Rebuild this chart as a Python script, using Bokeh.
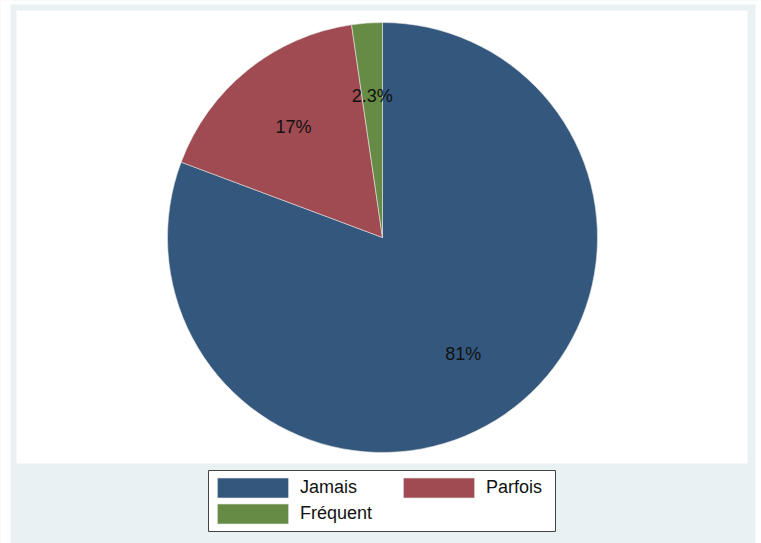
import math
from bokeh.plotting import figure
from bokeh.models import Range1d, Legend, LegendItem
from bokeh.core.properties import value
from bokeh.embed import file_html
from bokeh.resources import INLINE

categories = ["Jamais", "Parfois", "Fréquent"]
shares = [80.7, 17.0, 2.3]
slice_labels = ["81%", "17%", "2.3%"]
colors = ["#34587D", "#A04A52", "#668B44"]

W, H = 761, 543
BG = "#EAF1F2"
FONT = "Liberation Sans"

p = figure(width=W, height=H, output_backend="svg", toolbar_location=None,
           x_range=Range1d(0, W), y_range=Range1d(0, H),
           min_border=0, min_border_left=0, min_border_right=0,
           min_border_top=0, min_border_bottom=0)
p.axis.visible = False
p.grid.visible = False
p.outline_line_color = None
p.background_fill_color = BG
p.border_fill_color = BG

def px(X):
    return X

def py(Y):
    return H - Y

# page-white strips outside the grey graph region, and white plot region
p.quad(left=[px(0)], right=[px(10)], bottom=[py(543)], top=[py(0)],
       fill_color="white", line_color=None)
p.quad(left=[px(755)], right=[px(761)], bottom=[py(543)], top=[py(0)],
       fill_color="white", line_color=None)
p.quad(left=[px(0)], right=[px(761)], bottom=[py(4)], top=[py(0)],
       fill_color="white", line_color=None)
p.quad(left=[px(16)], right=[px(747)], bottom=[py(463)], top=[py(10)],
       fill_color="white", line_color=None)

cx, cy, r = px(382), py(237), 215

total = sum(shares)
starts, ends, mids = [], [], []
cum = 0.0
for s in shares:
    a_end = math.radians(90 - cum / total * 360)
    cum += s
    a_start = math.radians(90 - cum / total * 360)
    starts.append(a_start)
    ends.append(a_end)
    mids.append((a_start + a_end) / 2)

rends = []
for i, cat in enumerate(categories):
    rr = p.wedge(x=cx, y=cy, radius=r, start_angle=starts[i], end_angle=ends[i],
                 fill_color=colors[i], line_color="#E6E6E6", line_width=0.6)
    rends.append(rr)

lx = [cx + 0.66 * r * math.cos(m) for m in mids]
ly = [cy + 0.66 * r * math.sin(m) for m in mids]
p.text(x=lx, y=ly, text=slice_labels, text_align="center", text_baseline="middle",
       text_font=value(FONT), text_font_size="18px", text_color="#111111")

# legend frame
p.quad(left=[px(208)], right=[px(555)], bottom=[py(531)], top=[py(470)],
       fill_color="white", line_color="#444444", line_width=1)

common = dict(orientation="vertical", glyph_width=89, glyph_height=25,
              label_text_font=FONT, label_text_font_size="18px",
              label_text_color="#111111", label_standoff=3, label_height=25,
              spacing=1, padding=0, margin=0,
              border_line_color=None, background_fill_alpha=0.0)

legA = Legend(items=[LegendItem(label=categories[0], renderers=[rends[0]]),
                     LegendItem(label=categories[2], renderers=[rends[2]])],
              location=(px(208), py(525.5)), **common)
legB = Legend(items=[LegendItem(label=categories[1], renderers=[rends[1]])],
              location=(px(394), py(499.5)), **common)
p.add_layout(legA, "center")
p.add_layout(legB, "center")

open("out.html", "w").write(file_html(p, INLINE))
